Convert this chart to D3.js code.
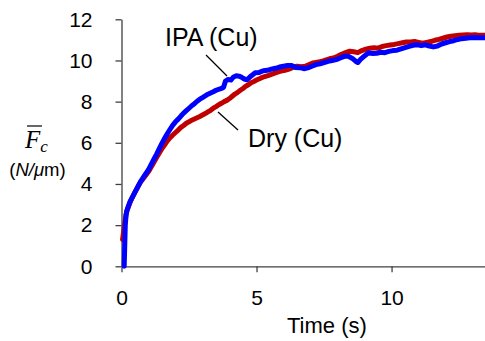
<!DOCTYPE html>
<html>
<head>
<meta charset="utf-8">
<script src="https://cdn.jsdelivr.net/npm/d3@7"></script>
<style>
  body { margin: 0; background: #fff; }
  svg { display: block; font-family: Arial, "Liberation Sans", sans-serif; }
</style>
</head>
<body>
<div id="chartDiv"></div>
<script>
// [time (s), mean force (N/um)]
var dryData = [[0.04,1.3],[0.08,1.7],[0.12,2.1],[0.16,2.45],[0.2,2.7],[0.3,3.05],[0.4,3.35],[0.5,3.6],[0.6,3.85],[0.7,4.08],[0.8,4.25],[0.9,4.42],[1.0,4.6],[1.1,4.82],[1.2,5.05],[1.3,5.28],[1.4,5.5],[1.5,5.72],[1.6,5.9],[1.7,6.1],[1.8,6.25],[1.9,6.38],[2.0,6.5],[2.1,6.62],[2.2,6.75],[2.3,6.84],[2.4,6.95],[2.5,7.02],[2.6,7.1],[2.7,7.16],[2.8,7.22],[2.9,7.28],[3.0,7.35],[3.1,7.42],[3.2,7.5],[3.3,7.58],[3.4,7.68],[3.5,7.76],[3.6,7.85],[3.7,7.92],[3.8,8.0],[3.9,8.06],[4.0,8.15],[4.1,8.26],[4.2,8.37],[4.3,8.45],[4.4,8.55],[4.5,8.64],[4.6,8.75],[4.7,8.82],[4.8,8.92],[4.9,8.98],[5.0,9.05],[5.15,9.14],[5.3,9.22],[5.45,9.28],[5.6,9.35],[5.75,9.42],[5.9,9.48],[6.05,9.52],[6.2,9.58],[6.35,9.66],[6.5,9.72],[6.65,9.7],[6.8,9.72],[6.95,9.8],[7.1,9.88],[7.25,9.92],[7.4,9.95],[7.55,10.02],[7.7,10.08],[7.85,10.12],[8.0,10.2],[8.15,10.3],[8.3,10.38],[8.45,10.45],[8.6,10.42],[8.75,10.38],[8.9,10.48],[9.05,10.55],[9.2,10.6],[9.35,10.62],[9.5,10.6],[9.65,10.68],[9.8,10.72],[9.95,10.75],[10.1,10.78],[10.25,10.82],[10.4,10.86],[10.55,10.9],[10.7,10.9],[10.85,10.92],[11.0,10.88],[11.15,10.84],[11.3,10.88],[11.45,10.92],[11.6,10.98],[11.75,11.02],[11.9,11.08],[12.05,11.14],[12.2,11.18],[12.35,11.2],[12.5,11.22],[12.65,11.24],[12.8,11.25],[12.95,11.24],[13.1,11.25],[13.25,11.22],[13.46,11.22]];
var ipaData = [[0.1,0],[0.12,1.0],[0.14,2.0],[0.17,2.5],[0.2,2.7],[0.25,2.9],[0.32,3.15],[0.4,3.35],[0.5,3.6],[0.6,3.85],[0.7,4.1],[0.85,4.4],[1.0,4.7],[1.1,4.95],[1.2,5.2],[1.3,5.45],[1.4,5.72],[1.5,5.98],[1.6,6.22],[1.7,6.45],[1.8,6.66],[1.9,6.86],[2.0,7.02],[2.1,7.15],[2.2,7.3],[2.3,7.44],[2.4,7.56],[2.5,7.68],[2.6,7.8],[2.7,7.9],[2.8,8.02],[2.9,8.12],[3.0,8.2],[3.1,8.28],[3.2,8.36],[3.3,8.42],[3.4,8.48],[3.5,8.55],[3.6,8.6],[3.7,8.64],[3.78,8.7],[3.85,9.0],[3.95,9.08],[4.05,9.05],[4.15,9.2],[4.25,9.26],[4.35,9.24],[4.45,9.18],[4.55,9.1],[4.65,9.06],[4.8,9.25],[4.95,9.4],[5.1,9.42],[5.25,9.5],[5.4,9.52],[5.55,9.58],[5.7,9.62],[5.85,9.68],[6.0,9.72],[6.15,9.76],[6.3,9.75],[6.45,9.66],[6.6,9.65],[6.75,9.6],[6.9,9.64],[7.05,9.72],[7.2,9.8],[7.35,9.84],[7.5,9.9],[7.65,9.96],[7.8,10.0],[7.95,10.04],[8.1,10.12],[8.25,10.2],[8.4,10.2],[8.55,10.1],[8.68,9.95],[8.75,9.9],[8.85,10.05],[9.0,10.22],[9.15,10.38],[9.3,10.34],[9.45,10.35],[9.6,10.4],[9.75,10.38],[9.9,10.44],[10.05,10.48],[10.2,10.5],[10.35,10.56],[10.5,10.62],[10.65,10.68],[10.8,10.74],[10.95,10.76],[11.1,10.72],[11.25,10.76],[11.4,10.7],[11.55,10.66],[11.7,10.7],[11.85,10.8],[12.0,10.86],[12.15,10.92],[12.3,10.96],[12.45,11.02],[12.6,11.06],[12.75,11.08],[12.9,11.1],[13.05,11.12],[13.2,11.1],[13.46,11.1]];
var xTicks = [0, 5, 10];
var yTicks = [0, 2, 4, 6, 8, 10, 12];

;(function() {
	var width = 485;
	var height = 341;
	var margin = { top: 19.3, right: 0, bottom: 74.7, left: 121.5 };
	var chartWidth = width - margin.left - margin.right;
	var chartHeight = height - margin.top - margin.bottom;
	var axisColor = "#404040";

	var svg = d3.select("#chartDiv").append("svg")
		.attr("width", width)
		.attr("height", height);

	var plot = svg.append("g")
		.attr("transform", "translate(" + margin.left + "," + margin.top + ")");

	var xScale = d3.scaleLinear().domain([0, 13.46]).range([0, chartWidth]);
	var yScale = d3.scaleLinear().domain([0, 12]).range([chartHeight, 0]);

	// x axis
	var xAxis = plot.append("g")
		.attr("transform", "translate(0," + chartHeight + ")")
		.call(d3.axisBottom(xScale).tickValues(xTicks).tickSize(6).tickSizeOuter(0).tickPadding(18));
	// y axis
	var yAxis = plot.append("g")
		.call(d3.axisLeft(yScale).tickValues(yTicks).tickSize(6).tickSizeOuter(0).tickPadding(23));

	[xAxis, yAxis].forEach(function(a) {
		a.select(".domain").attr("stroke", axisColor).attr("stroke-width", 1.3);
		a.selectAll(".tick line").attr("stroke", axisColor).attr("stroke-width", 1.3);
		a.selectAll(".tick text").attr("fill", "#000").style("font-size", "21px")
			.style("font-family", "Arial, 'Liberation Sans', sans-serif");
	});

	var line = d3.line()
		.x(function(d) { return xScale(d[0]); })
		.y(function(d) { return yScale(d[1]); });

	plot.append("path").datum(dryData)
		.attr("fill", "none").attr("stroke", "#c00000").attr("stroke-width", 5)
		.attr("stroke-linejoin", "round").attr("stroke-linecap", "round")
		.attr("d", line);
	plot.append("path").datum(ipaData)
		.attr("fill", "none").attr("stroke", "#0000ff").attr("stroke-width", 5)
		.attr("stroke-linejoin", "round").attr("stroke-linecap", "round")
		.attr("d", line);

	// annotations
	svg.append("text").attr("x", 165).attr("y", 45.5)
		.style("font-size", "25px").text("IPA (Cu)");
	svg.append("line").attr("x1", 206).attr("y1", 55).attr("x2", 227).attr("y2", 76)
		.attr("stroke", "#000").attr("stroke-width", 1.3);
	svg.append("text").attr("x", 248).attr("y", 146.5)
		.style("font-size", "25px").text("Dry (Cu)");
	svg.append("line").attr("x1", 218).attr("y1", 112).attr("x2", 238).attr("y2", 130)
		.attr("stroke", "#000").attr("stroke-width", 1.3);

	// axis titles
	svg.append("text").attr("x", 287).attr("y", 332.5)
		.style("font-size", "22px").text("Time (s)");

	var fLabel = svg.append("text").attr("x", 25).attr("y", 148)
		.style("font-family", "'Liberation Serif', 'DejaVu Serif', serif")
		.style("font-style", "italic").style("font-size", "25px");
	fLabel.append("tspan").text("F");
	fLabel.append("tspan").attr("dy", 4).style("font-size", "17px").text("c");
	svg.append("line").attr("x1", 27).attr("y1", 126).attr("x2", 42).attr("y2", 126)
		.attr("stroke", "#000").attr("stroke-width", 1.2);

	var unit = svg.append("text").attr("x", 37.5).attr("y", 176)
		.attr("text-anchor", "middle").style("font-size", "18.5px");
	unit.append("tspan").text("(");
	unit.append("tspan").style("font-style", "italic").text("N/\u03bc");
	unit.append("tspan").text("m)");
})();
</script>
</body>
</html>
